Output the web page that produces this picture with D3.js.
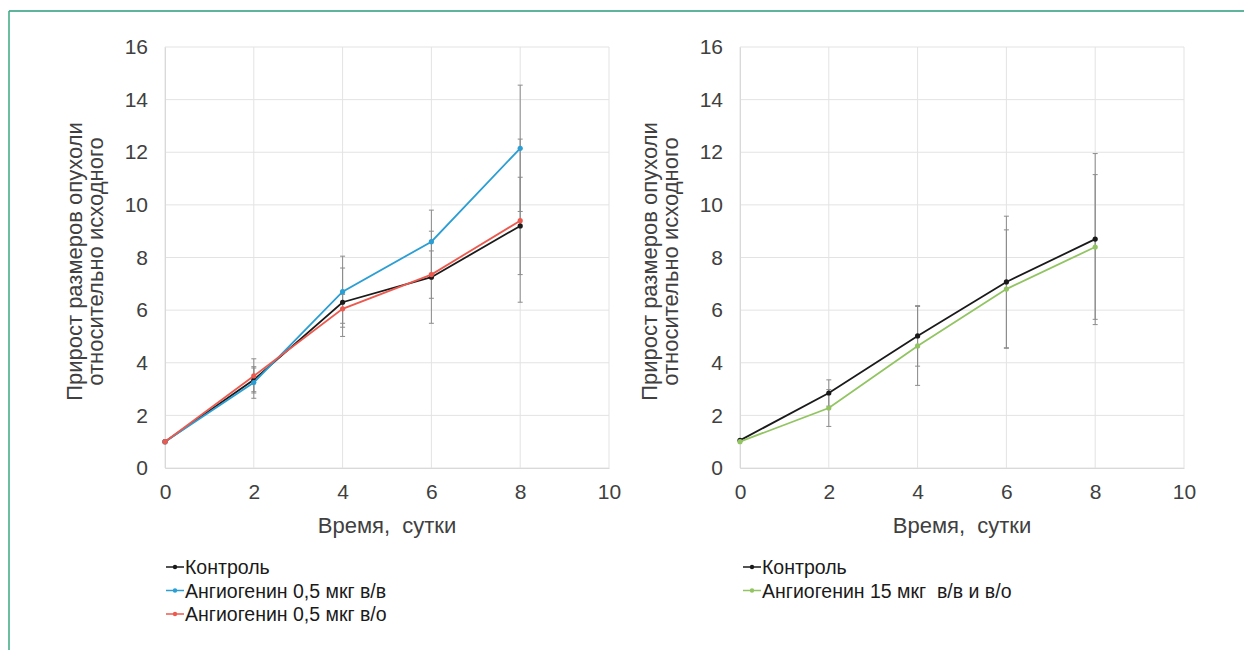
<!DOCTYPE html>
<html>
<head>
<meta charset="utf-8">
<script src="https://cdn.jsdelivr.net/npm/d3@7"></script>
<style>
  body { margin: 0; background: #fff; }
  text { font-family: "Liberation Sans", Arial, sans-serif; white-space: pre; }
</style>
</head>
<body>
<div id="chart"></div>
<script>
// days on x axis
var days = [0, 2, 4, 6, 8];
var yTicks = [0, 2, 4, 6, 8, 10, 12, 14, 16];
var xTicks = [0, 2, 4, 6, 8, 10];

// left panel
var controlA = [1.0, 3.35, 6.3, 7.25, 9.2];
var controlAErr = [0, 0.45, 1.3, 1.75, 1.85];
var ivA = [1.0, 3.25, 6.7, 8.6, 12.15];
var ivAErr = [0, 0.6, 1.35, 1.2, 2.4];
var scA = [1.0, 3.5, 6.05, 7.35, 9.4];
var scAErr = [0, 0.65, 0.55, 0.9, 3.1];

// right panel
var controlB = [1.05, 2.85, 5.02, 7.07, 8.7];
var controlBErr = [0, 0.5, 1.15, 2.5, 3.25];
var dose15 = [1.0, 2.28, 4.64, 6.8, 8.4];
var dose15Err = [0, 0.7, 1.5, 2.25, 2.75];

var yTitle = ["Прирост размеров опухоли", "относительно исходного"];
var xTitle = "Время,  сутки";

var svgWidth = 1244, svgHeight = 650;

var svg = d3.select("#chart")
  .append("svg")
  .attr("width", svgWidth)
  .attr("height", svgHeight);

// frame lines
svg.append("line")
  .attr("x1", 9).attr("x2", svgWidth).attr("y1", 11).attr("y2", 11)
  .attr("stroke", "#5fb49c").attr("stroke-width", 2);
svg.append("line")
  .attr("x1", 9).attr("x2", 9).attr("y1", 11).attr("y2", svgHeight)
  .attr("stroke", "#3aa880").attr("stroke-width", 1.5);

function drawPanel(left, series, legendX) {
  var x = d3.scaleLinear().domain([0, 10]).range([left, left + 444]);
  var y = d3.scaleLinear().domain([0, 16]).range([468, 47]);

  var g = svg.append("g");

  // grid
  g.selectAll(".vgrid").data(xTicks).enter().append("line")
    .attr("x1", d => x(d)).attr("x2", d => x(d))
    .attr("y1", y(16)).attr("y2", y(0))
    .attr("stroke", "#e3e3e3").attr("stroke-width", 1);
  g.selectAll(".hgrid").data(yTicks).enter().append("line")
    .attr("x1", x(0)).attr("x2", x(10))
    .attr("y1", d => y(d)).attr("y2", d => y(d))
    .attr("stroke", "#e3e3e3").attr("stroke-width", 1);

  // axes
  var xAxis = d3.axisBottom(x).tickValues(xTicks).tickSize(0).tickPadding(16);
  var yAxis = d3.axisLeft(y).tickValues(yTicks).tickSize(0).tickPadding(17);

  g.append("g")
    .attr("transform", `translate(0, ${y(0)})`)
    .call(xAxis)
    .call(a => a.select(".domain").attr("stroke", "#d9d9d9"))
    .selectAll("text")
    .attr("font-size", 21).attr("fill", "#404040")
    .style("font-family", "Liberation Sans, Arial, sans-serif");

  g.append("g")
    .attr("transform", `translate(${x(0)}, 0)`)
    .call(yAxis)
    .call(a => a.select(".domain").attr("stroke", "#d9d9d9"))
    .selectAll("text")
    .attr("font-size", 21).attr("fill", "#404040")
    .style("font-family", "Liberation Sans, Arial, sans-serif");

  // axis titles
  g.append("text")
    .attr("x", x(5)).attr("y", 533)
    .attr("text-anchor", "middle")
    .attr("font-size", 22).attr("fill", "#404040")
    .text(xTitle);

  yTitle.forEach(function(t, i) {
    g.append("text")
      .attr("transform", `translate(${left - 83 + i * 21}, ${y(8) + 4}) rotate(-90)`)
      .attr("text-anchor", "middle")
      .attr("font-size", 22).attr("fill", "#404040")
      .text(t);
  });

  // error bars
  series.forEach(function(s) {
    var pts = days.map((d, i) => ({ d: d, v: s.values[i], e: s.err[i] }))
      .filter(p => p.e > 0);
    var eb = g.append("g");
    eb.selectAll(".stem").data(pts).enter().append("line")
      .attr("x1", p => x(p.d)).attr("x2", p => x(p.d))
      .attr("y1", p => y(p.v - p.e)).attr("y2", p => y(p.v + p.e))
      .attr("stroke", "#8c8c8c").attr("stroke-width", 1);
    [-1, 1].forEach(function(sign) {
      eb.selectAll(".cap" + sign).data(pts).enter().append("line")
        .attr("x1", p => x(p.d) - 2.5).attr("x2", p => x(p.d) + 2.5)
        .attr("y1", p => y(p.v + sign * p.e)).attr("y2", p => y(p.v + sign * p.e))
        .attr("stroke", "#8c8c8c").attr("stroke-width", 1);
    });
  });

  // lines + markers
  var line = d3.line().x((v, i) => x(days[i])).y(v => y(v));
  series.forEach(function(s) {
    g.append("path")
      .datum(s.values)
      .attr("d", line)
      .attr("fill", "none")
      .attr("stroke", s.color)
      .attr("stroke-width", 1.8);
    g.selectAll(null).data(s.values).enter().append("circle")
      .attr("cx", (v, i) => x(days[i]))
      .attr("cy", v => y(v))
      .attr("r", 2.6)
      .attr("fill", s.color);
  });

  // legend
  series.forEach(function(s, i) {
    var ly = 567 + i * 23.5;
    g.append("line")
      .attr("x1", legendX).attr("x2", legendX + 18)
      .attr("y1", ly).attr("y2", ly)
      .attr("stroke", s.color).attr("stroke-width", 1.5);
    g.append("circle")
      .attr("cx", legendX + 9).attr("cy", ly).attr("r", 2.2)
      .attr("fill", s.color);
    g.append("text")
      .attr("x", legendX + 19).attr("y", ly + 7)
      .attr("font-size", 19.5).attr("fill", "#1a1a1a")
      .text(s.name);
  });
}

drawPanel(165, [
  { name: "Контроль", values: controlA, err: controlAErr, color: "#1a1a1a" },
  { name: "Ангиогенин 0,5 мкг в/в", values: ivA, err: ivAErr, color: "#2b9ed3" },
  { name: "Ангиогенин 0,5 мкг в/о", values: scA, err: scAErr, color: "#ec5a4f" }
], 166);

drawPanel(740, [
  { name: "Контроль", values: controlB, err: controlBErr, color: "#1a1a1a" },
  { name: "Ангиогенин 15 мкг  в/в и в/о", values: dose15, err: dose15Err, color: "#92c462" }
], 743);
</script>
</body>
</html>
